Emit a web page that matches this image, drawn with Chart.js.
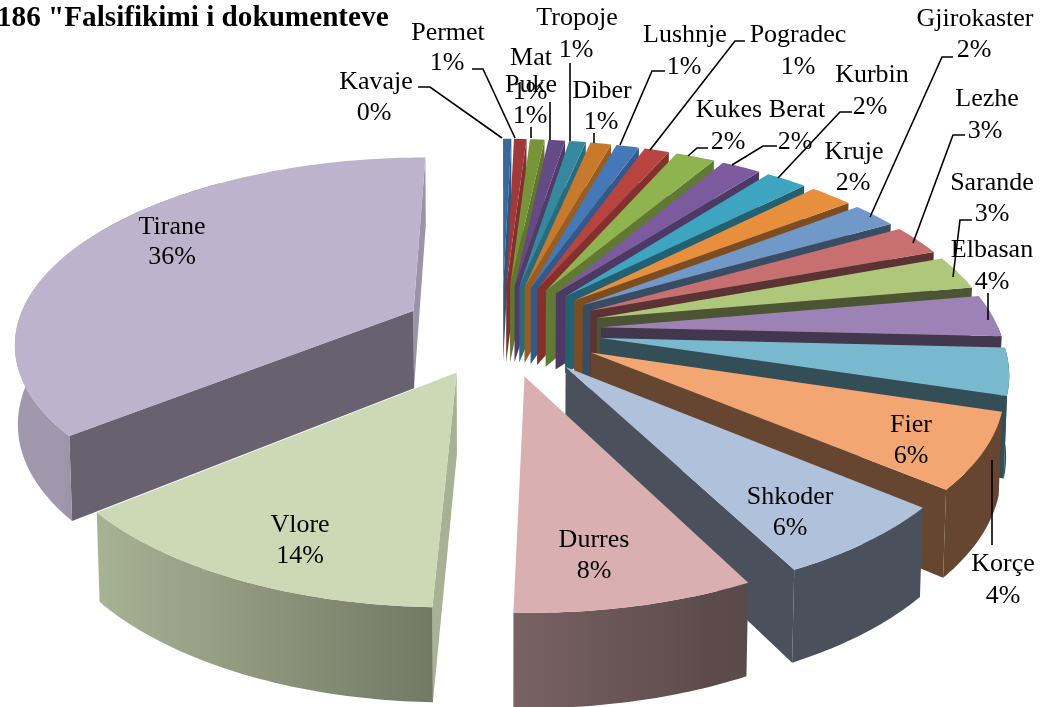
<!DOCTYPE html>
<html>
<head>
<meta charset="utf-8">
<style>
    html, body { margin: 0; padding: 0; background: #fff; overflow: hidden; }
    canvas { display: block; }
</style>
<script src="https://cdn.jsdelivr.net/npm/chart.js@4"></script>
</head>
<body>
<canvas id="pie3d" width="1041" height="707"></canvas>
<script>
const titleText = '186 "Falsifikimi i dokumenteve';
const cities = ['Kavaje', 'Permet', 'Mat', 'Puke', 'Tropoje', 'Diber', 'Lushnje', 'Pogradec', 'Kukes', 'Berat', 'Kurbin', 'Kruje', 'Gjirokaster', 'Lezhe', 'Sarande', 'Elbasan', 'Korçe', 'Fier', 'Shkoder', 'Durres', 'Vlore', 'Tirane'];
const shares = [0.4, 0.6, 0.7, 0.8, 0.8, 1, 1.1, 1.2, 1.9, 1.9, 2, 2.1, 2.2, 2.6, 2.9, 3.6, 4, 6.4, 6.3, 8, 13.5, 36];
const sliceColors = ['#37689e', '#a03a38', '#789438', '#654a85', '#34899f', '#c87a2c', '#4478b8', '#b84440', '#8fb34e', '#7b5a9e', '#3da5c0', '#e88f3e', '#7098c8', '#c87070', '#afc77a', '#9c82b5', '#79b9cf', '#f4a672', '#b0c1dc', '#d9afb0', '#cdd8b4', '#bdb3cc'];

// label placement: [name x, name y, percent x, percent y]
const labelSpots = [
    [376, 82, 374, 113], [448, 33, 447, 63], [531, 58, 530, 92], [531, 85, 530, 116],
    [577, 18, 576, 50], [602, 91, 601, 122], [685, 35, 684, 67], [798, 35, 798, 67],
    [729, 110, 728, 142], [797, 110, 795, 142], [872, 75, 870, 107], [854, 152, 853, 183],
    [975, 19, 974, 50], [987, 99, 985, 131], [992, 183, 992, 214], [992, 250, 992, 282],
    [1003, 564, 1003, 596], [911, 425, 911, 456], [790, 497, 790, 528], [594, 540, 594, 571],
    [300, 525, 300, 556], [172, 227, 172, 257],
];
// leader lines, by slice index
const leaders = {
    0: [[418, 87], [430, 87], [502, 138]],
    1: [[472, 69], [483, 69], [515, 138]],
    2: [[531, 127], [531, 138]],
    3: [[550, 102], [550, 140]],
    4: [[570, 63], [570, 141]],
    5: [[594, 133], [594, 143]],
    6: [[665, 71], [652, 71], [620, 145]],
    7: [[745, 41], [735, 41], [650, 150]],
    8: [[708, 148], [697, 148], [688, 156]],
    9: [[777, 146], [763, 146], [732, 165]],
    10: [[852, 112], [840, 112], [778, 178]],
    12: [[953, 57], [942, 57], [870, 217]],
    13: [[965, 135], [953, 135], [913, 243]],
    14: [[972, 220], [960, 220], [953, 277]],
    15: [[988, 293], [988, 320]],
    16: [[992, 460], [992, 545]],
};

const view = { cx: 502, cy: 330, sx: 398, sy: 183, persp: 0.157, drop: 79, sink: 0.006 };
const labelFont = "26px 'Liberation Serif', 'Times New Roman', serif";
const HALF_PI = Math.PI / 2;

const project = (u, v, low) => {
    const den = 1 - view.persp * v + (low ? view.sink : 0);
    return [view.cx + (view.sx * u) / den, view.cy + (view.sy * v + (low ? view.drop : 0)) / den];
};

const shadeColor = (hex, f) => {
    const n = parseInt(hex.slice(1), 16);
    const c = [(n >> 16) & 255, (n >> 8) & 255, n & 255].map((x) => Math.round(x * f));
    return `rgb(${c[0]},${c[1]},${c[2]})`;
};

const fillPoly = (ctx, pts, color) => {
    ctx.beginPath();
    pts.forEach((p, i) => (i ? ctx.lineTo(p[0], p[1]) : ctx.moveTo(p[0], p[1])));
    ctx.closePath();
    ctx.fillStyle = color;
    ctx.fill();
};

// radial walls go dark as they turn to the viewer, and stay dark once they face left
const wallShade = (nu, nv) => {
    const facing = nu < 0 ? 1 : Math.max(nv, 0);
    return 0.82 - 0.4 * Math.pow(facing, 1.5);
};
const rimShade = (deg) => Math.min(0.85, Math.max(0.42, 0.42 + (deg - 156) * 0.0054));

const drawSlice = (ctx, arc) => {
    const a = arc.startAngle + HALF_PI;
    const b = arc.endAngle + HALF_PI;
    const mid = (a + b) / 2;
    const explode = arc.options.offset / arc.outerRadius;
    const ou = Math.sin(mid) * explode;
    const ov = -Math.cos(mid) * explode;
    const color = arc.options.backgroundColor;
    const rim = (t) => [ou + Math.sin(t), ov - Math.cos(t)];
    const steps = Math.max(2, Math.ceil((b - a) / 0.015));

    const wall = (t, nu, nv) => {
        // skip walls turned away from the viewer, edge-on ones on the right still show
        if (nv < 0 && nu < 0.9) return;
        if (nu < 0 && nv <= 0) return;
        const r = rim(t);
        fillPoly(ctx, [project(ou, ov, false), project(r[0], r[1], false), project(r[0], r[1], true), project(ou, ov, true)], shadeColor(color, wallShade(nu, nv)));
    };
    wall(a, -Math.cos(a), -Math.sin(a));
    wall(b, Math.cos(b), Math.sin(b));

    // perspective keeps some of the rim in view past 270 degrees, the top face hides the rest
    const from = Math.max(a, HALF_PI);
    const to = Math.min(b, 3.6 * HALF_PI);
    if (to > from) {
        const upper = [];
        const lower = [];
        for (let i = 0; i <= steps; i++) {
            const r = rim(from + ((to - from) * i) / steps);
            upper.push(project(r[0], r[1], false));
            lower.unshift(project(r[0], r[1], true));
        }
        const shadeTo = Math.min(to, 3 * HALF_PI);
        const endRim = rim(shadeTo);
        const grad = ctx.createLinearGradient(upper[0][0], 0, project(endRim[0], endRim[1], false)[0], 0);
        for (let i = 0; i <= 6; i++) {
            const deg = ((from + ((shadeTo - from) * i) / 6) * 180) / Math.PI;
            grad.addColorStop(i / 6, shadeColor(color, rimShade(deg)));
        }
        fillPoly(ctx, upper.concat(lower), grad);
    }

    const top = [project(ou, ov, false)];
    for (let i = 0; i <= steps; i++) {
        const r = rim(a + ((b - a) * i) / steps);
        top.push(project(r[0], r[1], false));
    }
    fillPoly(ctx, top, color);
};

const pie3dPlugin = {
    id: 'pie3d',
    beforeDatasetsDraw(chart) {
        const ctx = chart.ctx;
        const arcs = chart.getDatasetMeta(0).data.slice();
        const depth = (arc) => -Math.cos((arc.startAngle + arc.endAngle) / 2 + HALF_PI);
        arcs.sort((p, q) => depth(p) - depth(q));
        ctx.save();
        arcs.forEach((arc) => drawSlice(ctx, arc));
        ctx.restore();
        return false;
    },
    afterDraw(chart) {
        const ctx = chart.ctx;
        ctx.save();
        ctx.strokeStyle = '#000';
        ctx.lineWidth = 1.6;
        Object.values(leaders).forEach((line) => {
            ctx.beginPath();
            line.forEach((p, i) => (i ? ctx.lineTo(p[0], p[1]) : ctx.moveTo(p[0], p[1])));
            ctx.stroke();
        });
        ctx.fillStyle = '#000';
        ctx.textAlign = 'center';
        ctx.textBaseline = 'middle';
        ctx.font = labelFont;
        cities.forEach((name, i) => {
            const spot = labelSpots[i];
            ctx.fillText(name, spot[0], spot[1]);
            ctx.fillText(Math.round(shares[i]) + '%', spot[2], spot[3]);
        });
        ctx.textAlign = 'left';
        ctx.textBaseline = 'alphabetic';
        ctx.font = "bold 29.2px 'Liberation Serif', 'Times New Roman', serif";
        ctx.fillText(titleText, -3, 26);
        ctx.restore();
    },
};

new Chart(document.getElementById('pie3d'), {
    type: 'pie',
    data: {
        labels: cities,
        datasets: [{ data: shares, backgroundColor: sliceColors, borderWidth: 0, offset: 78.5 }],
    },
    options: {
        responsive: false,
        animation: false,
        events: [],
        plugins: { legend: { display: false }, tooltip: { enabled: false } },
    },
    plugins: [pie3dPlugin],
});
</script>
</body>
</html>
